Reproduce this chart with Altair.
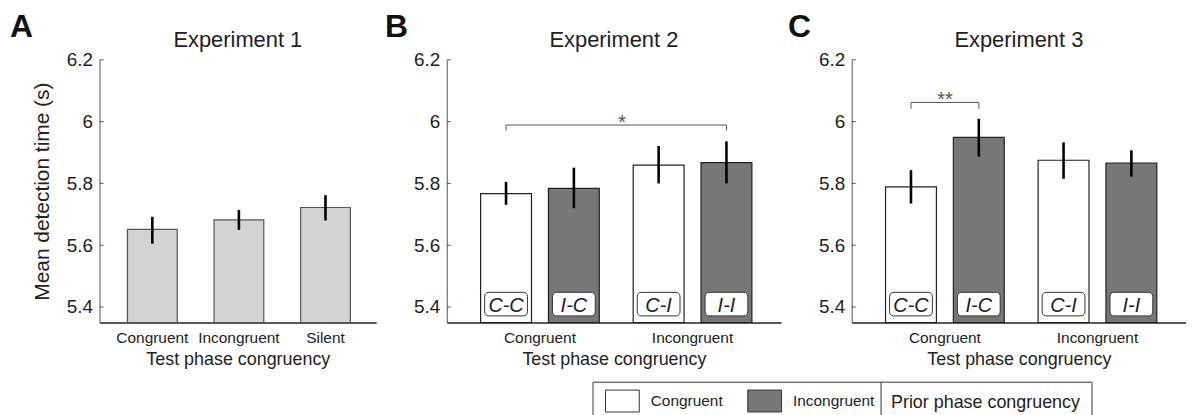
import altair as alt
import pandas as pd

FONT = "Liberation Sans"
TXT = "#222222"

# ---------------- data ----------------
y_ticks = [5.4, 5.6, 5.8, 6.0, 6.2]
y_domain = [5.35, 6.2]

exp1_cats = ["Congruent", "Incongruent", "Silent"]
exp1_mean = [5.651, 5.682, 5.722]
exp1_lo = [5.605, 5.650, 5.680]
exp1_hi = [5.692, 5.714, 5.762]

test_levels = ["Congruent", "Incongruent"]
prior_levels = ["Congruent", "Incongruent"]
cond_test = ["Congruent", "Congruent", "Incongruent", "Incongruent"]
cond_prior = ["Congruent", "Incongruent", "Congruent", "Incongruent"]
cond_labels = ["C-C", "I-C", "C-I", "I-I"]

exp2_mean = [5.767, 5.784, 5.859, 5.867]
exp2_lo = [5.731, 5.720, 5.800, 5.800]
exp2_hi = [5.805, 5.851, 5.921, 5.936]

exp3_mean = [5.789, 5.949, 5.875, 5.866]
exp3_lo = [5.735, 5.887, 5.815, 5.822]
exp3_hi = [5.843, 6.009, 5.933, 5.907]

exp2_br_test = ["Congruent", "Congruent", "Incongruent", "Incongruent"]
exp2_br_prior = ["Congruent", "Congruent", "Incongruent", "Incongruent"]
exp2_br_y = [5.971, 5.989, 5.989, 5.971]
exp2_star = ["*"]
exp2_star_y = [5.977]

exp3_br_test = ["Congruent", "Congruent", "Congruent", "Congruent"]
exp3_br_prior = ["Congruent", "Congruent", "Incongruent", "Incongruent"]
exp3_br_y = [6.041, 6.062, 6.062, 6.041]
exp3_star = ["**"]
exp3_star_y = [6.050]

panel_titles = ["Experiment 1", "Experiment 2", "Experiment 3"]
panel_letters = ["A", "B", "C"]
legend_title = ["Prior phase congruency"]

H = 264


def yenc(field, title=None):
    ax = alt.Axis(values=y_ticks, format="~g", ticks=False, tickSize=0, labelPadding=7,
                  labelFontSize=19, labelFont=FONT, labelColor=TXT, domainColor="#555555",
                  domainWidth=1, grid=False, title=title if title else "",
                  titleFontSize=21, titleFont=FONT, titleFontWeight="normal", titleColor=TXT,
                  titlePadding=14)
    return alt.Y(field, type="quantitative", scale=alt.Scale(domain=y_domain, zero=False, nice=False), axis=ax)


def xaxis():
    return alt.Axis(title="Test phase congruency", labelAngle=0, ticks=False, tickSize=0,
                    labelPadding=8, labelFontSize=15.5, labelFont=FONT, labelColor=TXT,
                    domainColor="#222222", domainWidth=1.5, titleFontSize=18, titleFont=FONT,
                    titleFontWeight="normal", titleColor=TXT, titlePadding=5)


def head(ch, dx, ttl, w):
    letter = alt.Chart(pd.DataFrame({"t": [ch]})).mark_text(
        align="left", baseline="top", fontSize=32, fontWeight="bold", font=FONT, color="#111111"
    ).encode(text="t:N", x=alt.value(dx), y=alt.value(-48))
    ttxt = alt.Chart(pd.DataFrame({"t": [ttl]})).mark_text(
        align="center", baseline="alphabetic", fontSize=22, font=FONT, color=TXT
    ).encode(text="t:N", x=alt.value(w / 2), y=alt.value(-12.6))
    return [letter, ttxt]


def tick_layer():
    return alt.Chart(pd.DataFrame({"v": y_ticks})).mark_rule(color="#555555", strokeWidth=1).encode(
        y=yenc("v"), x=alt.value(0), x2=alt.value(4))


# ---------------- panel A ----------------
dfA = pd.DataFrame({"cond": exp1_cats, "mean": exp1_mean, "lo": exp1_lo, "hi": exp1_hi})
xA = alt.X("cond:N", sort=exp1_cats,
           scale=alt.Scale(paddingInner=0.425, paddingOuter=0.31, align=0.52), axis=xaxis())
baseA = alt.Chart(dfA)
barsA = baseA.mark_bar(fill="#d3d3d3", stroke="#555555", strokeWidth=1.2).encode(
    x=xA, y=yenc("mean", "Mean detection time (s)"), y2=alt.datum(y_domain[0]))
errA = baseA.mark_rule(color="black", strokeWidth=2.6).encode(x=xA, y=yenc("lo"), y2="hi:Q")
panelA = alt.layer(barsA, errA, tick_layer(), *head(panel_letters[0], -90, panel_titles[0], 278)).properties(
    width=278, height=H)

# ---------------- panels B / C ----------------
fill_scale = alt.Scale(domain=prior_levels, range=["#ffffff", "#777777"])
legend = alt.Legend(
    title="", orient="none", legendX=508, legendY=325.2,
    direction="horizontal",
    labelFontSize=15.5, labelFont=FONT, labelColor=TXT, labelOffset=11, labelLimit=200,
    symbolType="M-1,-0.647L1,-0.647L1,0.647L-1,0.647Z", symbolSize=1156,
    symbolStrokeColor="#333333", symbolStrokeWidth=1, symbolOffset=0, columnPadding=22,
    strokeColor="transparent", padding=0)


def xBC():
    return alt.X("test:N", sort=test_levels,
                 scale=alt.Scale(paddingInner=0.222, paddingOuter=0.2065, align=0.537), axis=xaxis())


def offBC():
    return alt.XOffset("prior:N", sort=prior_levels, scale=alt.Scale(paddingInner=0.25, paddingOuter=0))


def panel(mean, lo, hi, br_test, br_prior, br_y, star, star_y, star_band, star_dx, ttl, let, letdx, extra=None):
    df = pd.DataFrame({"test": cond_test, "prior": cond_prior, "label": cond_labels,
                       "mean": mean, "lo": lo, "hi": hi})
    base = alt.Chart(df)
    bars = base.mark_bar(stroke="#222222", strokeWidth=1.2).encode(
        x=xBC(), xOffset=offBC(), y=yenc("mean"), y2=alt.datum(y_domain[0]),
        fill=alt.Fill("prior:N", scale=fill_scale, legend=legend))
    err = base.mark_rule(color="black", strokeWidth=2.6).encode(
        x=xBC(), xOffset=offBC(), y=yenc("lo"), y2="hi:Q")
    boxes = base.mark_bar(width=43, cornerRadius=4, fill="white", stroke="#333333", strokeWidth=1).encode(
        x=xBC(), xOffset=offBC(), y=alt.value(233.7), y2=alt.value(257.4))
    labels = base.mark_text(fontSize=20, fontStyle="italic", font=FONT, color=TXT, baseline="middle").encode(
        x=xBC(), xOffset=offBC(), y=alt.value(247.5), text="label:N")
    dbr = pd.DataFrame({"test": br_test, "prior": br_prior, "y": br_y, "seq": [0, 1, 2, 3]})
    br = alt.Chart(dbr).mark_line(color="#555555", strokeWidth=1).encode(
        x=xBC(), xOffset=offBC(), y=yenc("y"), order="seq:Q")
    dst = pd.DataFrame({"test": ["Congruent"], "s": star, "y": star_y})
    st = alt.Chart(dst).mark_text(fontSize=20, font=FONT, color="#555555", baseline="alphabetic",
                                  dx=star_dx).encode(
        x=alt.X("test:N", sort=test_levels, bandPosition=star_band,
                scale=alt.Scale(paddingInner=0.222, paddingOuter=0.2065, align=0.537), axis=xaxis()),
        y=yenc("y"), text="s:N")
    layers = [bars, err, boxes, labels, br, st, tick_layer()] + head(let, letdx, ttl, 336)
    if extra is not None:
        layers.extend(extra)
    return alt.layer(*layers).properties(width=336, height=H)


# legend frame (box + divider between the entries and the legend title) and legend title
frame_df = pd.DataFrame({"k": [0]})
legend_box = alt.Chart(frame_df).mark_rect(fillOpacity=0, stroke="#333333", strokeWidth=1).encode(
    x=alt.value(-260), x2=alt.value(241.5), y=alt.value(324), y2=alt.value(372))
divider = alt.Chart(frame_df).mark_rule(color="#333333", strokeWidth=1).encode(
    x=alt.value(29.5), y=alt.value(324), y2=alt.value(372))
legend_ttl = alt.Chart(pd.DataFrame({"t": legend_title})).mark_text(
    align="left", baseline="alphabetic", fontSize=18, font=FONT, color=TXT
).encode(text="t:N", x=alt.value(39.5), y=alt.value(350))

panelB = panel(exp2_mean, exp2_lo, exp2_hi, exp2_br_test, exp2_br_prior, exp2_br_y,
               exp2_star, exp2_star_y, 1.0, 23, panel_titles[1], panel_letters[1], -62)
panelC = panel(exp3_mean, exp3_lo, exp3_hi, exp3_br_test, exp3_br_prior, exp3_br_y,
               exp3_star, exp3_star_y, 0.5, 0, panel_titles[2], panel_letters[2], -64,
               extra=[legend_box, divider, legend_ttl])

chart = alt.hconcat(panelA, panelB, panelC, spacing=71, bounds="flush").properties(
    padding={"left": 2, "top": 2, "right": 0, "bottom": 0}
).configure_view(strokeWidth=0)

chart.save("out.html", embed_options={"renderer": "svg", "actions": False})
